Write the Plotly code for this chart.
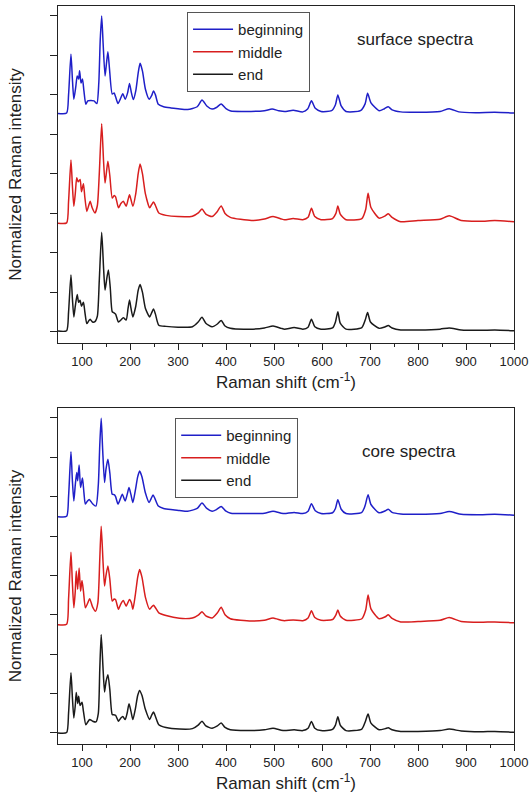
import plotly.graph_objects as go

# ---------------- data (Raman shift cm-1, stacked normalized intensity) ----------------
surface_beginning = [
    (50, 5.53), (68, 5.54), (72, 6.0), (77, 7.03), (80, 6.4), (83, 5.89), (87, 6.2), (90, 6.48),
    (93, 6.4), (95, 6.61), (98, 6.3), (101, 6.40), (104, 6.1), (108, 5.76), (112, 5.85), (118, 5.86),
    (125, 5.85), (131, 5.78), (135, 6.3), (138, 7.4), (141, 8.0), (144, 7.3), (148, 6.48), (151, 6.8),
    (154, 7.09), (157, 6.7), (163, 6.02), (167, 6.05), (170, 5.95), (175, 5.78), (180, 5.9), (185, 6.03),
    (190, 5.89), (195, 6.05), (199, 6.29), (203, 6.05), (207, 5.88), (212, 6.1), (217, 6.55), (221, 6.80),
    (226, 6.6), (232, 6.15), (240, 5.89), (245, 5.98), (249, 6.10), (253, 6.0), (259, 5.76), (270, 5.70),
    (285, 5.67), (300, 5.65), (320, 5.63), (340, 5.70), (350, 5.87), (360, 5.72), (371, 5.64), (380, 5.68),
    (390, 5.77), (400, 5.65), (410, 5.59), (440, 5.58), (480, 5.60), (496, 5.64), (510, 5.60), (522, 5.58),
    (540, 5.61), (560, 5.57), (570, 5.64), (578, 5.85), (586, 5.66), (598, 5.58), (620, 5.60), (628, 5.75),
    (633, 6.00), (640, 5.72), (650, 5.58), (680, 5.60), (690, 5.78), (695, 6.04), (702, 5.80), (719, 5.60),
    (730, 5.65), (738, 5.70), (746, 5.62), (764, 5.57), (800, 5.56), (846, 5.58), (865, 5.65), (885, 5.57),
    (920, 5.55), (960, 5.56), (1000, 5.54),
]
surface_middle = [
    (50, 2.75), (68, 2.76), (72, 3.3), (77, 4.35), (80, 3.7), (83, 3.18), (86, 3.5), (89, 3.90),
    (92, 3.8), (96, 3.86), (99, 3.55), (103, 3.75), (106, 3.4), (110, 3.05), (114, 3.2), (117, 3.31),
    (121, 3.15), (127, 3.01), (132, 3.2), (136, 4.0), (141, 5.27), (145, 4.3), (148, 3.77), (151, 4.05),
    (154, 4.32), (158, 3.95), (163, 3.39), (167, 3.45), (170, 3.42), (176, 3.14), (181, 3.25), (186, 3.31),
    (192, 3.18), (196, 3.35), (199, 3.47), (202, 3.35), (206, 3.18), (212, 3.5), (217, 4.0), (221, 4.25),
    (226, 4.0), (232, 3.5), (241, 3.14), (245, 3.22), (249, 3.29), (253, 3.2), (260, 3.01), (275, 2.95),
    (300, 2.92), (330, 2.93), (343, 3.02), (350, 3.11), (358, 2.98), (371, 2.92), (382, 3.05), (390, 3.19),
    (398, 3.00), (409, 2.90), (453, 2.82), (480, 2.86), (498, 2.92), (515, 2.86), (522, 2.84), (540, 2.87),
    (560, 2.84), (571, 2.90), (578, 3.13), (585, 2.92), (598, 2.84), (622, 2.87), (629, 3.00), (633, 3.19),
    (638, 2.98), (650, 2.84), (683, 2.87), (691, 3.10), (696, 3.51), (702, 3.15), (719, 2.88), (732, 2.94),
    (738, 2.99), (746, 2.90), (764, 2.79), (800, 2.82), (846, 2.85), (865, 2.94), (890, 2.82), (930, 2.80),
    (960, 2.82), (1000, 2.79),
]
surface_end = [
    (50, 0.02), (68, 0.03), (72, 0.5), (77, 1.44), (80, 0.85), (83, 0.38), (86, 0.65), (90, 0.95),
    (93, 0.75), (96, 0.80), (99, 0.65), (103, 0.75), (106, 0.5), (110, 0.21), (114, 0.28), (117, 0.32),
    (122, 0.25), (127, 0.26), (132, 0.4), (136, 1.3), (141, 2.52), (145, 1.6), (148, 1.06), (151, 1.3),
    (155, 1.57), (159, 1.1), (163, 0.51), (167, 0.48), (170, 0.45), (176, 0.25), (181, 0.3), (186, 0.36),
    (192, 0.3), (196, 0.6), (199, 0.81), (202, 0.6), (206, 0.38), (212, 0.65), (217, 1.05), (221, 1.20),
    (226, 1.0), (232, 0.6), (241, 0.38), (245, 0.48), (249, 0.58), (253, 0.45), (260, 0.17), (275, 0.14),
    (300, 0.12), (330, 0.13), (342, 0.25), (350, 0.37), (358, 0.22), (371, 0.13), (382, 0.2), (390, 0.29),
    (398, 0.15), (409, 0.09), (450, 0.07), (480, 0.10), (498, 0.15), (515, 0.09), (522, 0.07), (542, 0.11),
    (560, 0.07), (571, 0.12), (578, 0.32), (585, 0.13), (598, 0.07), (622, 0.10), (628, 0.25), (633, 0.51),
    (638, 0.22), (650, 0.07), (683, 0.11), (690, 0.3), (695, 0.49), (701, 0.25), (719, 0.09), (732, 0.13),
    (738, 0.16), (746, 0.10), (764, 0.05), (800, 0.05), (846, 0.07), (865, 0.10), (890, 0.05), (930, 0.04),
    (960, 0.05), (1000, 0.03),
]
core_beginning = [
    (50, 5.49), (68, 5.50), (72, 6.0), (77, 7.14), (80, 6.4), (83, 5.89), (86, 6.3), (89, 6.61),
    (91, 6.4), (94, 6.80), (97, 6.23), (101, 6.47), (104, 6.1), (107, 5.81), (111, 5.88), (115, 5.93),
    (122, 5.82), (129, 5.76), (134, 6.3), (137, 7.3), (140, 7.99), (143, 7.2), (147, 6.36), (150, 6.7),
    (154, 6.95), (158, 6.6), (163, 6.06), (167, 6.05), (170, 6.0), (175, 5.81), (180, 5.95), (184, 6.06),
    (190, 5.89), (194, 6.05), (198, 6.23), (202, 6.05), (206, 5.85), (211, 6.15), (216, 6.5), (220, 6.65),
    (225, 6.5), (232, 6.1), (240, 5.85), (244, 5.95), (248, 6.04), (252, 5.95), (259, 5.76), (270, 5.70),
    (285, 5.67), (303, 5.65), (320, 5.63), (340, 5.70), (350, 5.84), (360, 5.70), (371, 5.63), (380, 5.67),
    (390, 5.75), (400, 5.63), (410, 5.58), (440, 5.57), (480, 5.58), (498, 5.63), (515, 5.58), (522, 5.57),
    (542, 5.60), (560, 5.57), (571, 5.63), (578, 5.82), (586, 5.64), (598, 5.57), (622, 5.59), (628, 5.70),
    (633, 5.92), (640, 5.68), (650, 5.57), (683, 5.60), (690, 5.78), (696, 6.05), (702, 5.80), (719, 5.59),
    (732, 5.64), (738, 5.68), (746, 5.60), (764, 5.56), (800, 5.55), (846, 5.57), (865, 5.62), (890, 5.55),
    (930, 5.54), (960, 5.55), (1000, 5.53),
]
core_middle = [
    (50, 2.75), (68, 2.76), (72, 3.4), (77, 4.59), (80, 3.8), (83, 3.18), (86, 3.6), (88, 4.11),
    (91, 3.65), (94, 4.19), (97, 3.60), (100, 3.87), (103, 3.6), (107, 3.18), (112, 3.3), (116, 3.41),
    (122, 3.2), (128, 3.09), (133, 3.3), (137, 4.4), (140, 5.25), (144, 4.3), (147, 3.73), (150, 4.0),
    (154, 4.24), (158, 3.9), (163, 3.35), (167, 3.4), (170, 3.38), (176, 3.14), (181, 3.28), (186, 3.36),
    (192, 3.22), (196, 3.32), (199, 3.39), (203, 3.3), (206, 3.14), (211, 3.5), (216, 3.95), (220, 4.15),
    (225, 3.95), (232, 3.45), (241, 3.14), (245, 3.2), (249, 3.24), (253, 3.18), (260, 3.05), (275, 2.98),
    (303, 2.91), (330, 2.92), (343, 3.0), (350, 3.08), (358, 2.97), (371, 2.92), (382, 3.05), (390, 3.19),
    (398, 3.0), (409, 2.90), (453, 2.84), (480, 2.86), (498, 2.92), (515, 2.86), (522, 2.85), (540, 2.87),
    (560, 2.85), (571, 2.92), (578, 3.1), (585, 2.93), (598, 2.86), (622, 2.88), (629, 3.0), (633, 3.12),
    (638, 2.97), (650, 2.86), (683, 2.9), (691, 3.12), (696, 3.5), (702, 3.15), (719, 2.9), (732, 2.95),
    (738, 3.0), (746, 2.91), (764, 2.82), (800, 2.83), (846, 2.86), (865, 2.93), (890, 2.83), (930, 2.81),
    (960, 2.82), (1000, 2.80),
]
core_end = [
    (50, 0.0), (68, 0.01), (72, 0.5), (77, 1.53), (80, 0.9), (83, 0.38), (86, 0.7), (88, 1.03),
    (91, 0.75), (93, 0.93), (96, 0.7), (100, 0.78), (103, 0.55), (108, 0.21), (112, 0.28), (116, 0.34),
    (122, 0.3), (129, 0.28), (134, 0.5), (137, 1.6), (140, 2.50), (144, 1.6), (147, 1.04), (150, 1.3),
    (154, 1.48), (158, 1.1), (163, 0.47), (167, 0.46), (170, 0.45), (176, 0.3), (181, 0.38), (185, 0.42),
    (190, 0.34), (194, 0.5), (198, 0.74), (202, 0.55), (206, 0.34), (211, 0.6), (216, 0.95), (220, 1.08),
    (225, 0.95), (232, 0.6), (241, 0.34), (245, 0.45), (249, 0.53), (253, 0.42), (260, 0.21), (275, 0.14),
    (303, 0.10), (330, 0.11), (342, 0.2), (350, 0.30), (358, 0.18), (371, 0.12), (382, 0.18), (390, 0.25),
    (398, 0.14), (409, 0.08), (450, 0.06), (480, 0.08), (498, 0.12), (515, 0.07), (522, 0.06), (542, 0.08),
    (560, 0.06), (571, 0.12), (578, 0.29), (585, 0.12), (598, 0.06), (622, 0.09), (628, 0.2), (633, 0.41),
    (638, 0.2), (650, 0.06), (683, 0.1), (690, 0.28), (696, 0.48), (702, 0.25), (719, 0.08), (732, 0.11),
    (738, 0.13), (746, 0.08), (764, 0.04), (800, 0.04), (846, 0.06), (865, 0.10), (890, 0.05), (930, 0.03),
    (960, 0.04), (1000, 0.02),
]

series_names = ["beginning", "middle", "end"]
series_colors = ["#1f1fc8", "#d81e1e", "#1a1a1a"]
x_tick_vals = [100, 200, 300, 400, 500, 600, 700, 800, 900, 1000]
x_tick_text = ["100", "200", "300", "400", "500", "600", "700", "800", "900", "1000"]
x_minor_vals = [150, 250, 350, 450, 550, 650, 750, 850, 950]
y_tick_vals = [0, 1, 2, 3, 4, 5, 6, 7, 8]
panel_labels = ["surface spectra", "core spectra"]

FONT = "Liberation Sans, Arial, sans-serif"

fig = go.Figure()
panels = [
    ([surface_beginning, surface_middle, surface_end], "x", "y", "legend"),
    ([core_beginning, core_middle, core_end], "x2", "y2", "legend2"),
]
for spectra, xa, ya, lg in panels:
    for spec, name, color in zip(spectra, series_names, series_colors):
        fig.add_trace(go.Scatter(
            x=[p[0] for p in spec], y=[p[1] for p in spec], mode="lines", name=name,
            line=dict(color=color, width=1.5, shape="spline", smoothing=0.6),
            xaxis=xa, yaxis=ya, legend=lg,
        ))

xaxis_common = dict(
    range=[50, 1000], tickvals=x_tick_vals, ticktext=x_tick_text, ticks="outside", ticklen=6,
    tickwidth=1, tickcolor="#222", showline=True, linecolor="#222", linewidth=1, mirror=True,
    showgrid=False, zeroline=False, automargin=False, ticklabeloverflow="allow",
    tickfont=dict(family=FONT, size=13, color="#222"),
    minor=dict(tickvals=x_minor_vals, ticks="outside", ticklen=3, tickcolor="#222"),
    title=dict(text="Raman shift (cm<sup>-1</sup>)", font=dict(family=FONT, size=17, color="#222"), standoff=8),
)
yaxis_common = dict(
    range=[-0.28, 8.25], tickvals=y_tick_vals, showticklabels=False, ticks="outside", ticklen=7,
    tickwidth=1, tickcolor="#222", showline=True, linecolor="#222", linewidth=1, mirror=True,
    showgrid=False, zeroline=False, automargin=False,
    title=dict(text="Normalized Raman intensity", font=dict(family=FONT, size=17, color="#222"), standoff=24),
)

legend_common = dict(
    bgcolor="rgba(255,255,255,1)", bordercolor="#555", borderwidth=1,
    font=dict(family=FONT, size=15, color="#222"), xanchor="left", yanchor="top",
    tracegroupgap=0, itemwidth=40,
)

fig.update_layout(
    width=529, height=802, margin=dict(l=58, r=15, t=6, b=58),
    paper_bgcolor="white", plot_bgcolor="white",
    font=dict(family=FONT, size=13, color="#222"),
    xaxis=dict(domain=[0, 1], anchor="y", **xaxis_common),
    yaxis=dict(domain=[0.5434, 1], anchor="x", **yaxis_common),
    xaxis2=dict(domain=[0, 1], anchor="y2", **xaxis_common),
    yaxis2=dict(domain=[0, 0.4553], anchor="x2", **yaxis_common),
    legend=dict(x=0.283, y=0.992, **legend_common),
    legend2=dict(x=0.257, y=0.4417, **legend_common),
    annotations=[
        dict(text=panel_labels[0], x=0.783, y=0.954, xref="paper", yref="paper", showarrow=False,
             xanchor="center", yanchor="middle", font=dict(family=FONT, size=17, color="#222")),
        dict(text=panel_labels[1], x=0.770, y=0.397, xref="paper", yref="paper", showarrow=False,
             xanchor="center", yanchor="middle", font=dict(family=FONT, size=17, color="#222")),
    ],
)

fig.write_html("out.html", config={"displayModeBar": False},
               post_script="document.body.style.margin='0';")
